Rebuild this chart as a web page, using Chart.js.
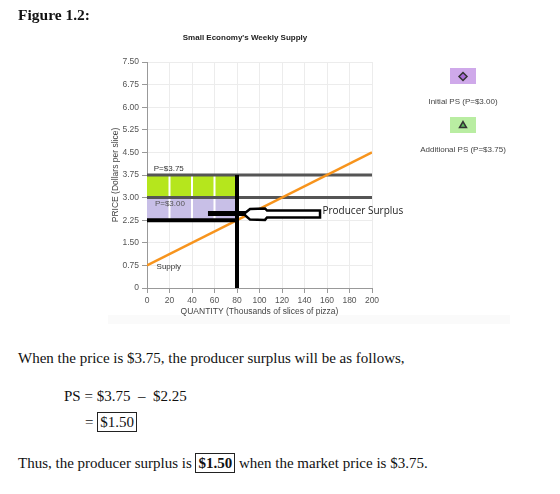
<!DOCTYPE html>
<html>
<head>
<meta charset="utf-8">
<script src="https://cdn.jsdelivr.net/npm/chart.js@4.4.1/dist/chart.umd.min.js"></script>
<style>
  html, body { margin:0; padding:0; background:#fff; width:560px; height:494px; overflow:hidden; }
  #wrap { position:absolute; left:0; top:0; width:560px; height:330px; }
  .t { position:absolute; font-family:'Liberation Serif','Times New Roman',serif; color:#111; white-space:nowrap; line-height:18px; }
  #fig { left:18px; top:6px; font-size:15.5px; font-weight:bold; }
  #p1 { left:18px; top:349px; font-size:15px; }
  #p2 { left:64px; top:387px; font-size:15px; }
  #p3 { left:85px; top:413px; font-size:15px; }
  #p4 { left:18px; top:454px; font-size:15px; }
  .box { border:1px solid #222; padding:1px 2px; }
  #band { position:absolute; left:108px; top:315px; width:402px; height:9px; background:#fafafa; }
</style>
</head>
<body>
<div id="band"></div>
<div id="wrap"><canvas id="c" width="560" height="330"></canvas></div>
<div class="t" id="fig">Figure 1.2:</div>
<div class="t" id="p1">When the price is $3.75, the producer surplus will be as follows,</div>
<div class="t" id="p2">PS = $3.75 &nbsp;&ndash;&nbsp; $2.25</div>
<div class="t" id="p3">= <span class="box">$1.50</span></div>
<div class="t" id="p4">Thus, the producer surplus is <span class="box"><b>$1.50</b></span> when the market price is $3.75.</div>
<script>
// ---- data ----
const xTicks = [0, 20, 40, 60, 80, 100, 120, 140, 160, 180, 200];
const yTicks = [0, 0.75, 1.5, 2.25, 3.0, 3.75, 4.5, 5.25, 6.0, 6.75, 7.5];
const yTickLabels = ['0', '0.75', '1.50', '2.25', '3.00', '3.75', '4.50', '5.25', '6.00', '6.75', '7.50'];
const supplyQ = [0, 200];
const supplyP = [0.75, 4.5];
const initialPrice = 3.0;
const newPrice = 3.75;
const minPrice = 2.25;
const quantity = 80;
const separatorQ = [20, 40, 60];
const arrowX = [87.1, 91.6, 104.9, 106.7, 153.8, 153.8, 106.7, 104.9, 91.6, 87.1, 87.1];
const arrowY = [2.49, 2.62, 2.64, 2.57, 2.57, 2.34, 2.34, 2.26, 2.27, 2.42, 2.49];
const shaftX = [54.2, 88];
const shaftY = [2.47, 2.47];
const legendLabels = ['Initial PS (P=$3.00)', 'Additional PS (P=$3.75)'];

const pts = (xs, ys) => xs.map((x, i) => ({x, y: ys[i]}));
const sepData = [];
separatorQ.forEach(q => { sepData.push({x:q, y:minPrice}, {x:q, y:newPrice}, {x:q, y:null}); });

const FONT = "'Liberation Sans', Arial, sans-serif";

const textPlugin = {
  id: 'texts',
  afterDatasetsDraw(chart) {
    const {ctx, scales:{x, y}} = chart;
    ctx.save();
    ctx.textBaseline = 'middle';
    ctx.textAlign = 'left';
    ctx.fillStyle = '#333';
    ctx.font = '8px ' + FONT;
    ctx.fillText('P=$3.75', x.getPixelForValue(6), y.getPixelForValue(3.97));
    ctx.fillStyle = '#555';
    ctx.fillText('P=$3.00', x.getPixelForValue(7), y.getPixelForValue(2.78));
    ctx.fillStyle = '#333';
    ctx.fillText('Supply', x.getPixelForValue(8.5), y.getPixelForValue(0.71));
    ctx.fillStyle = '#222';
    ctx.font = "10px 'Open Sans', 'Liberation Sans', sans-serif";
    ctx.fillText('Producer Surplus', x.getPixelForValue(156), y.getPixelForValue(2.56));
    // chart title
    ctx.textAlign = 'center';
    ctx.fillStyle = '#222';
    ctx.font = 'bold 8px ' + FONT;
    ctx.fillText("Small Economy's Weekly Supply", 245, 38);
    // legend
    const items = [
      {label: legendLabels[0], box: '#cfa9ea', fill: '#a86bd6', style: 'rectRot', by: 68, ty: 102},
      {label: legendLabels[1], box: '#b9eda2', fill: '#5cb85c', style: 'triangle', by: 117, ty: 150}
    ];
    items.forEach(it => {
      ctx.fillStyle = it.box;
      ctx.fillRect(450, it.by, 26, 16);
      ctx.fillStyle = it.fill;
      ctx.strokeStyle = '#333';
      ctx.lineWidth = 1.5;
      Chart.helpers.drawPoint(ctx, {pointStyle: it.style, radius: 4, rotation: 0, borderWidth: 1.5}, 463, it.by + 8.5);
      ctx.fillStyle = '#444';
      ctx.font = '8px ' + FONT;
      ctx.fillText(it.label, 463, it.ty);
    });
    ctx.restore();
  }
};

new Chart(document.getElementById('c'), {
  type: 'scatter',
  data: {
    datasets: [
      {label: legendLabels[1], data: [{x:0, y:newPrice}, {x:quantity, y:newPrice}], showLine:true, fill:{value: initialPrice}, backgroundColor:'#b5e61d', borderWidth:0, pointRadius:0, order:20},
      {label: legendLabels[0], data: [{x:0, y:initialPrice}, {x:quantity, y:initialPrice}], showLine:true, fill:{value: minPrice}, backgroundColor:'#c8bfe7', borderWidth:0, pointRadius:0, order:19},
      {label:'sep', data: sepData, showLine:true, borderColor:'#ffffff', borderWidth:2, pointRadius:0, spanGaps:false, order:18},
      {label:'price lines', data: [{x:0,y:newPrice},{x:200,y:newPrice},{x:100,y:null},{x:0,y:initialPrice},{x:200,y:initialPrice}], showLine:true, borderColor:'#555', borderWidth:3, pointRadius:0, spanGaps:false, order:17},
      {label:'Supply', data: pts(supplyQ, supplyP), showLine:true, borderColor:'#f7941d', borderWidth:2.5, pointRadius:0, order:16},
      {label:'black', data: [{x:0,y:minPrice},{x:quantity,y:minPrice},{x:quantity,y:null},{x:quantity,y:0},{x:quantity,y:newPrice}], showLine:true, borderColor:'#000', borderWidth:4, pointRadius:0, spanGaps:false, order:15},
      {label:'shaft', data: pts(shaftX, shaftY), showLine:true, borderColor:'#000', borderWidth:5, pointRadius:0, order:14},
      {label:'arrow', data: pts(arrowX, arrowY), showLine:true, borderColor:'#000', borderWidth:2.5, backgroundColor:'#fff', fill:'shape', pointRadius:0, order:13}
    ]
  },
  options: {
    responsive: false,
    animation: false,
    events: [],
    layout: {padding: {left: 100, right: 188, top: 62, bottom: 2}},
    plugins: {legend: {display:false}, tooltip: {enabled:false}, title: {display:false}},
    scales: {
      x: {
        type: 'linear', min: 0, max: 200,
        afterBuildTicks: s => { s.ticks = xTicks.map(v => ({value: v})); },
        afterFit: s => { s.height = 40; },
        ticks: {color:'#555', font:{size:8.5, family:FONT}, padding:3, maxRotation:0, autoSkip:false},
        grid: {color:'#ececec', tickColor:'#999', tickLength:5},
        border: {color:'#999'},
        title: {display:true, text:'QUANTITY (Thousands of slices of pizza)', color:'#444', font:{size:8.5, family:FONT}, padding:{top:0, bottom:11}}
      },
      y: {
        type: 'linear', min: 0, max: 7.5,
        afterBuildTicks: s => { s.ticks = yTicks.map(v => ({value: v})); },
        afterFit: s => { s.width = 47; },
        ticks: {color:'#555', font:{size:8.5, family:FONT}, padding:3, autoSkip:false,
                callback: (v, i) => yTickLabels[i]},
        grid: {color:'#ececec', tickColor:'#999', tickLength:5},
        border: {color:'#999'},
        title: {display:true, text:'PRICE (Dollars per slice)', color:'#444', font:{size:8.5, family:FONT}, padding:{top:11, bottom:0}}
      }
    }
  },
  plugins: [textPlugin]
});
</script>
</body>
</html>
